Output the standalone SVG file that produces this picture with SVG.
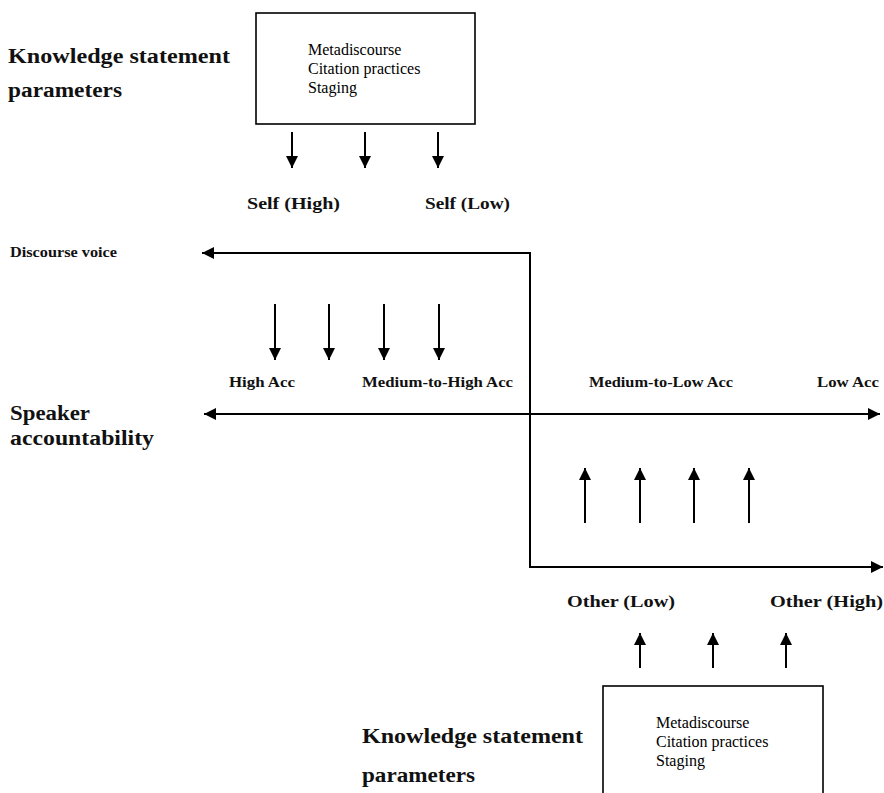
<svg xmlns="http://www.w3.org/2000/svg" width="884" height="793" viewBox="0 0 884 793">
<style>
.box{fill:#fff;stroke:#000;stroke-width:1.6}
.ln{stroke:#000;stroke-width:2;fill:none}
.ar{stroke:#000;stroke-width:2;fill:none;marker-end:url(#ah)}
.bt{font-family:"Liberation Serif","Times New Roman",serif;font-size:16px;fill:#000}
.tt{font-family:"Liberation Serif","Times New Roman",serif;font-size:20px;font-weight:bold;fill:#111}
.lb{font-family:"Liberation Serif","Times New Roman",serif;font-size:17px;font-weight:bold;fill:#111}
.sm{font-family:"Liberation Serif","Times New Roman",serif;font-size:14px;font-weight:bold;fill:#111}
</style>
<defs>
<marker id="ah" markerUnits="userSpaceOnUse" markerWidth="12" markerHeight="12" refX="12" refY="6" orient="auto-start-reverse">
<path d="M0,0 L12,6 L0,12 z" fill="#000"/>
</marker>
</defs>
<rect width="884" height="793" fill="#fff"/>

<g id="top-title">
<text class="tt" x="8" y="63" textLength="222" lengthAdjust="spacingAndGlyphs">Knowledge statement</text>
<text class="tt" x="8" y="97" textLength="114" lengthAdjust="spacingAndGlyphs">parameters</text>
</g>
<g id="top-box">
<rect class="box" x="256" y="13" width="219" height="111"/>
<text class="bt" x="308" y="55">Metadiscourse</text>
<text class="bt" x="308" y="74">Citation practices</text>
<text class="bt" x="308" y="93">Staging</text>
</g>
<g id="self-labels">
<text class="lb" x="247" y="209" textLength="93" lengthAdjust="spacingAndGlyphs">Self (High)</text>
<text class="lb" x="425" y="209" textLength="85" lengthAdjust="spacingAndGlyphs">Self (Low)</text>
</g>
<g id="discourse-voice">
<text class="sm" x="10" y="257" textLength="107" lengthAdjust="spacingAndGlyphs">Discourse voice</text>
</g>
<g id="acc-labels">
<text class="sm" x="229" y="387" textLength="66" lengthAdjust="spacingAndGlyphs">High Acc</text>
<text class="sm" x="362" y="387" textLength="151" lengthAdjust="spacingAndGlyphs">Medium-to-High  Acc</text>
<text class="sm" x="589" y="387" textLength="144" lengthAdjust="spacingAndGlyphs">Medium-to-Low Acc</text>
<text class="sm" x="817" y="387" textLength="62" lengthAdjust="spacingAndGlyphs">Low  Acc</text>
</g>
<g id="speaker-accountability">
<text class="tt" x="10" y="420" textLength="80" lengthAdjust="spacingAndGlyphs">Speaker</text>
<text class="tt" x="10" y="445" textLength="144" lengthAdjust="spacingAndGlyphs">accountability</text>
</g>
<g id="other-labels">
<text class="lb" x="567" y="607" textLength="108" lengthAdjust="spacingAndGlyphs">Other  (Low)</text>
<text class="lb" x="770" y="607" textLength="113" lengthAdjust="spacingAndGlyphs">Other  (High)</text>
</g>
<g id="bottom-title">
<text class="tt" x="362" y="743" textLength="221" lengthAdjust="spacingAndGlyphs">Knowledge statement</text>
<text class="tt" x="362" y="782" textLength="113" lengthAdjust="spacingAndGlyphs">parameters</text>
</g>
<g id="bottom-box">
<rect class="box" x="603" y="686" width="220" height="130"/>
<text class="bt" x="656" y="728">Metadiscourse</text>
<text class="bt" x="656" y="747">Citation practices</text>
<text class="bt" x="656" y="766">Staging</text>
</g>

<g id="connectors">
<line class="ar" x1="292" y1="132" x2="292" y2="168"/>
<line class="ar" x1="365" y1="132" x2="365" y2="168"/>
<line class="ar" x1="438" y1="132" x2="438" y2="168"/>

<line class="ar" x1="530" y1="253" x2="202" y2="253"/>
<line class="ln" x1="530" y1="252" x2="530" y2="567"/>
<line class="ar" x1="529" y1="567" x2="883" y2="567"/>

<line class="ar" x1="275" y1="304" x2="275" y2="360"/>
<line class="ar" x1="329" y1="304" x2="329" y2="360"/>
<line class="ar" x1="384" y1="304" x2="384" y2="360"/>
<line class="ar" x1="439" y1="304" x2="439" y2="360"/>

<line class="ar" x1="204" y1="414" x2="880" y2="414" marker-start="url(#ah)"/>

<line class="ar" x1="585" y1="523" x2="585" y2="468"/>
<line class="ar" x1="640" y1="523" x2="640" y2="468"/>
<line class="ar" x1="694" y1="523" x2="694" y2="468"/>
<line class="ar" x1="749" y1="523" x2="749" y2="468"/>

<line class="ar" x1="640" y1="668" x2="640" y2="633"/>
<line class="ar" x1="713" y1="668" x2="713" y2="633"/>
<line class="ar" x1="786" y1="668" x2="786" y2="633"/>
</g>
</svg>
